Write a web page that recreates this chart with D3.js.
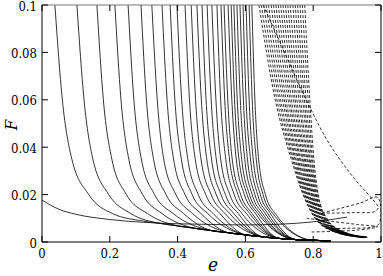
<!DOCTYPE html>
<html>
<head>
<meta charset="utf-8">
<script src="https://cdn.jsdelivr.net/npm/d3@7"></script>
<style>
  body { margin: 0; background: #fff; }
</style>
</head>
<body>
<svg id="chart" width="383" height="276"></svg>
<script>
// F levels at which the solid curves were read (e values per curve)
const solidLevels = [0.1, 0.06, 0.035, 0.02, 0.012]
const solidCurves = [
  [0.038, 0.060, 0.088, 0.138, 0.208],
  [0.103, 0.124, 0.150, 0.197, 0.262],
  [0.162, 0.181, 0.206, 0.249, 0.311],
  [0.215, 0.233, 0.256, 0.297, 0.354],
  [0.254, 0.271, 0.293, 0.332, 0.387],
  [0.292, 0.308, 0.329, 0.366, 0.418],
  [0.324, 0.340, 0.359, 0.395, 0.444],
  [0.354, 0.369, 0.388, 0.422, 0.469],
  [0.378, 0.392, 0.411, 0.443, 0.489],
  [0.398, 0.412, 0.430, 0.461, 0.505],
  [0.422, 0.435, 0.452, 0.483, 0.525],
  [0.440, 0.453, 0.469, 0.499, 0.540],
  [0.457, 0.470, 0.486, 0.514, 0.554],
  [0.472, 0.484, 0.500, 0.528, 0.566],
  [0.487, 0.499, 0.514, 0.541, 0.579],
  [0.501, 0.513, 0.527, 0.554, 0.590],
  [0.516, 0.527, 0.542, 0.567, 0.603],
  [0.528, 0.539, 0.553, 0.578, 0.613],
  [0.537, 0.548, 0.561, 0.586, 0.620],
  [0.549, 0.560, 0.573, 0.597, 0.630],
  [0.558, 0.568, 0.581, 0.605, 0.637],
  [0.566, 0.576, 0.589, 0.612, 0.644],
  [0.575, 0.585, 0.598, 0.620, 0.651],
  [0.584, 0.594, 0.606, 0.628, 0.659],
  [0.593, 0.602, 0.615, 0.636, 0.666],
  [0.602, 0.611, 0.623, 0.644, 0.674],
  [0.611, 0.620, 0.632, 0.652, 0.681],
  [0.619, 0.628, 0.639, 0.659, 0.688]
]
// index into the lower envelope where each solid curve joins it
const solidJoin = [0,1,2,3,4,4,5,5,6,6,6,7,7,7,7,8,8,8,8,8,9,9,9,9,9,9,10,10]
const envE = [0.30, 0.35, 0.40, 0.45, 0.50, 0.55, 0.60, 0.65, 0.70, 0.75, 0.80, 0.85]
const envF = [0.0088, 0.0078, 0.0068, 0.0058, 0.0048, 0.0039, 0.0030, 0.0022, 0.0015, 0.0010, 0.0007, 0.0005]

// dashed family
const dashLevels = [0.1, 0.06, 0.035, 0.02, 0.01, 0.005, 0.002]
const dashCurves = [
  [0.640, 0.688, 0.735, 0.770, 0.805, 0.850, 0.940],
  [0.647, 0.693, 0.739, 0.772, 0.807, 0.852, 0.941],
  [0.654, 0.699, 0.742, 0.775, 0.809, 0.853, 0.942],
  [0.661, 0.704, 0.746, 0.777, 0.811, 0.855, 0.943],
  [0.668, 0.710, 0.749, 0.780, 0.812, 0.856, 0.944],
  [0.676, 0.715, 0.753, 0.782, 0.814, 0.858, 0.945],
  [0.683, 0.720, 0.756, 0.784, 0.816, 0.860, 0.946],
  [0.690, 0.726, 0.760, 0.787, 0.818, 0.861, 0.947],
  [0.697, 0.731, 0.763, 0.789, 0.820, 0.863, 0.948],
  [0.704, 0.736, 0.767, 0.791, 0.822, 0.864, 0.950],
  [0.711, 0.742, 0.770, 0.794, 0.823, 0.866, 0.951],
  [0.718, 0.747, 0.774, 0.796, 0.825, 0.867, 0.952],
  [0.725, 0.752, 0.777, 0.798, 0.827, 0.869, 0.953],
  [0.732, 0.758, 0.781, 0.801, 0.829, 0.871, 0.954],
  [0.740, 0.763, 0.784, 0.803, 0.831, 0.872, 0.955],
  [0.747, 0.769, 0.788, 0.806, 0.833, 0.874, 0.956],
  [0.754, 0.774, 0.791, 0.808, 0.834, 0.875, 0.957],
  [0.761, 0.779, 0.795, 0.810, 0.836, 0.877, 0.958],
  [0.768, 0.785, 0.798, 0.813, 0.838, 0.878, 0.959],
  [0.775, 0.790, 0.802, 0.815, 0.840, 0.880, 0.960]
]

// lone solid curve entering at the left edge
const lowE = [0.0, 0.05, 0.1, 0.2, 0.3, 0.4, 0.5, 0.6, 0.7, 0.8, 0.9]
const lowF = [0.0177, 0.0138, 0.0117, 0.0095, 0.0083, 0.0077, 0.0074, 0.0072, 0.0075, 0.0085, 0.0105]

// dashed curves that run off to the right and fold back
const loopE1 = [0.652, 0.70, 0.76, 0.841, 0.92, 0.975, 0.992, 0.98, 0.92, 0.86, 0.826]
const loopF1 = [0.1, 0.085, 0.066, 0.043, 0.027, 0.018, 0.0145, 0.0128, 0.0124, 0.0122, 0.0122]
const loopE2 = [0.826, 0.88, 0.94, 0.99, 0.995, 0.97, 0.90, 0.84]
const loopF2 = [0.0122, 0.0142, 0.0165, 0.0188, 0.0078, 0.0062, 0.0058, 0.0056]
const loopE3 = [0.78, 0.85, 0.93, 0.99, 0.93, 0.86, 0.79]
const loopF3 = [0.0100, 0.0088, 0.0074, 0.0064, 0.0050, 0.0045, 0.0042]

const xTicks = [0, 0.2, 0.4, 0.6, 0.8, 1]
const yTicks = [0, 0.02, 0.04, 0.06, 0.08, 0.1]

const font = "DejaVu Serif Condensed, DejaVu Serif, serif"

let svg = d3.select("#chart")
let x = d3.scaleLinear().domain([0, 1]).range([42, 381])
let y = d3.scaleLinear().domain([0, 0.1]).range([242, 5])

svg.append("defs").append("clipPath").attr("id", "plot")
  .append("rect").attr("x", 42).attr("y", 5).attr("width", 339).attr("height", 237)

let body = svg.append("g").attr("clip-path", "url(#plot)")

let line = d3.line()
  .x(d => x(d[0]))
  .y(d => y(d[1]))
  .curve(d3.curveMonotoneX)

// solid family
solidCurves.forEach((c, i) => {
  let pts = c.map((e, k) => [e, solidLevels[k]])
  for (let j = solidJoin[i]; j < envE.length; j++) pts.push([envE[j], envF[j]])
  body.append("path")
    .attr("d", line(pts))
    .attr("fill", "none")
    .attr("stroke", "#000")
    .attr("stroke-width", 0.8)
})

// dashed family
dashCurves.forEach(c => {
  let pts = c.map((e, k) => [e, dashLevels[k]])
  body.append("path")
    .attr("d", line(pts))
    .attr("fill", "none")
    .attr("stroke", "#000")
    .attr("stroke-width", 0.8)
    .attr("stroke-dasharray", "3,2")
})

body.append("path")
  .attr("d", line(lowE.map((e, k) => [e, lowF[k]])))
  .attr("fill", "none").attr("stroke", "#000").attr("stroke-width", 0.8)

let loopLine = d3.line().x(d => x(d[0])).y(d => y(d[1])).curve(d3.curveCatmullRom)
;[[loopE1, loopF1], [loopE2, loopF2], [loopE3, loopF3]].forEach(([es, fs]) => {
  body.append("path")
    .attr("d", loopLine(es.map((e, k) => [e, fs[k]])))
    .attr("fill", "none").attr("stroke", "#000").attr("stroke-width", 0.8)
    .attr("stroke-dasharray", "3,2")
})

// frame (top edge is lighter in the original)
svg.append("path")
  .attr("d", "M42,5V242H381V5")
  .attr("fill", "none").attr("stroke", "#000").attr("stroke-width", 1)
svg.append("line").attr("x1", 42).attr("x2", 381).attr("y1", 5).attr("y2", 5)
  .attr("stroke", "#777").attr("stroke-width", 1.2)

// ticks and labels
xTicks.forEach(t => {
  svg.append("line").attr("x1", x(t)).attr("x2", x(t)).attr("y1", 242).attr("y2", 236)
    .attr("stroke", "#000")
  svg.append("line").attr("x1", x(t)).attr("x2", x(t)).attr("y1", 5).attr("y2", 11)
    .attr("stroke", "#000")
  svg.append("text").attr("x", t === 1 ? 379 : x(t)).attr("y", 258)
    .style("font-family", font)
    .attr("text-anchor", "middle").attr("font-size", 13).text(t)
})
yTicks.forEach(t => {
  svg.append("line").attr("x1", 42).attr("x2", 48).attr("y1", y(t)).attr("y2", y(t))
    .attr("stroke", "#000")
  svg.append("line").attr("x1", 381).attr("x2", 375).attr("y1", y(t)).attr("y2", y(t))
    .attr("stroke", "#000")
  svg.append("text").attr("x", 37).attr("y", y(t) + 1).attr("dy", "0.35em")
    .style("font-family", font)
    .attr("text-anchor", "end").attr("font-size", 13).text(t)
})

svg.append("text").attr("x", 213).attr("y", 271)
  .style("font-family", font)
  .attr("text-anchor", "middle").attr("font-size", 19).attr("font-style", "italic").text("e")
svg.append("text").attr("transform", "translate(17,125) rotate(-90)")
  .style("font-family", font)
  .attr("text-anchor", "middle").attr("font-size", 17).attr("font-style", "italic").text("F")
</script>
</body>
</html>
